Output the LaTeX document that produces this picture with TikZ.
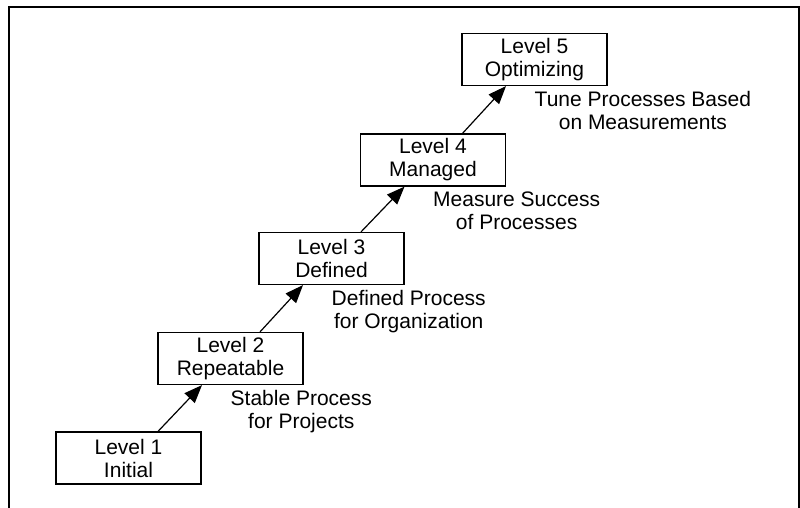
\documentclass[tikz,border=0pt]{standalone}
\usepackage{fontspec}
\setmainfont{Liberation Sans}
\usetikzlibrary{arrows.meta,positioning}

\begin{document}
\begin{tikzpicture}[x=1pt,y=-1pt]
\tikzstyle{every node}+=[inner sep=0pt,font=\fontsize{21}{23}\selectfont,align=center]
\tikzstyle{levelbox}=[draw,line width=1.2pt,minimum width=145pt,minimum height=52pt]
\tikzstyle{goal}=[anchor=north west,yshift=-5pt]
\tikzstyle{step up}=[line width=1.2pt,-{Triangle[length=18pt,width=14pt]}]
\useasboundingbox (0,0) rectangle (800,508);
\draw [line width=2.6pt] (9,512) -- (9,7) -- (799,7) -- (799,512);
\node [levelbox] (l1) at (128.5,458) {Level 1\\Initial};
\node [levelbox] (l2) at (230.5,358.5) {Level 2\\Repeatable};
\node [levelbox] (l3) at (331.5,258.5) {Level 3\\Defined};
\node [levelbox] (l4) at (433,160) {Level 4\\Managed};
\node [levelbox] (l5) at (534.5,59.5) {Level 5\\Optimizing};
\node [goal] (g2) at (l2.south) {Stable Process\\for Projects};
\node [goal] (g3) at (l3.south) {Defined Process\\for Organization};
\node [goal] (g4) at (l4.south) {Measure Success\\of Processes};
\node [goal] (g5) at (l5.south) {Tune Processes Based\\on Measurements};
\draw [step up] ([xshift=29.5pt]l1.north) -- ([xshift=-28.5pt]l2.south);
\draw [step up] ([xshift=29.5pt]l2.north) -- ([xshift=-28.5pt]l3.south);
\draw [step up] ([xshift=29.5pt]l3.north) -- ([xshift=-28.5pt]l4.south);
\draw [step up] ([xshift=29.5pt]l4.north) -- ([xshift=-28.5pt]l5.south);
\end{tikzpicture}
\end{document}
